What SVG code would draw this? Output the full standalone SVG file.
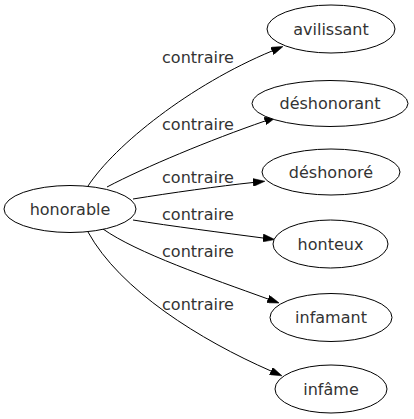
<svg xmlns="http://www.w3.org/2000/svg" width="414" height="419" viewBox="0 0 414 419">
<style>
.node ellipse{fill:#fff;stroke:#000;stroke-width:1}
.node text{font-family:"DejaVu Sans",sans-serif;font-size:16px;fill:#333;text-anchor:middle}
.edges path{fill:none;stroke:#000;stroke-width:1;marker-end:url(#arr)}
.edges text{font-family:"DejaVu Sans",sans-serif;font-size:16px;fill:#333;text-anchor:middle}
</style>
<defs>
<marker id="arr" viewBox="0 0 12 8" refX="0" refY="4" markerWidth="12" markerHeight="8" markerUnits="userSpaceOnUse" orient="auto">
<path d="M0,0 L12,4 L0,8 z" fill="#000" stroke="#000" stroke-width="0.5"/>
</marker>
</defs>
<rect width="414" height="419" fill="#fff"/>
<g class="edges">
<path d="M88,186 C115,145 190,85 272,51"/>
<text x="198" y="63">contraire</text>
<path d="M107,187 C145,167 210,140 265,121"/>
<text x="198" y="130">contraire</text>
<path d="M133,199 C170,193 220,186 253,182.5"/>
<text x="198" y="183">contraire</text>
<path d="M133,220 C170,226 225,233 263,238"/>
<text x="198" y="220">contraire</text>
<path d="M103,229 C137,253 210,278 268,299"/>
<text x="198" y="257">contraire</text>
<path d="M88,232 C120,290 200,340 271,371"/>
<text x="198" y="310">contraire</text>
</g>
<g id="honorable" class="node"><ellipse cx="70" cy="209" rx="66" ry="23.5"/><text x="70" y="215">honorable</text></g>
<g id="avilissant" class="node"><ellipse cx="331" cy="29" rx="64" ry="24"/><text x="331" y="35">avilissant</text></g>
<g id="deshonorant" class="node"><ellipse cx="330" cy="103.5" rx="78" ry="23"/><text x="330" y="109">déshonorant</text></g>
<g id="deshonore" class="node"><ellipse cx="331" cy="172" rx="69" ry="23"/><text x="331" y="178">déshonoré</text></g>
<g id="honteux" class="node"><ellipse cx="330.5" cy="244" rx="57.5" ry="24"/><text x="330.5" y="250">honteux</text></g>
<g id="infamant" class="node"><ellipse cx="331" cy="317.5" rx="61" ry="24"/><text x="331" y="323">infamant</text></g>
<g id="infame" class="node"><ellipse cx="331" cy="389" rx="56" ry="24"/><text x="331" y="395">infâme</text></g>
</svg>
